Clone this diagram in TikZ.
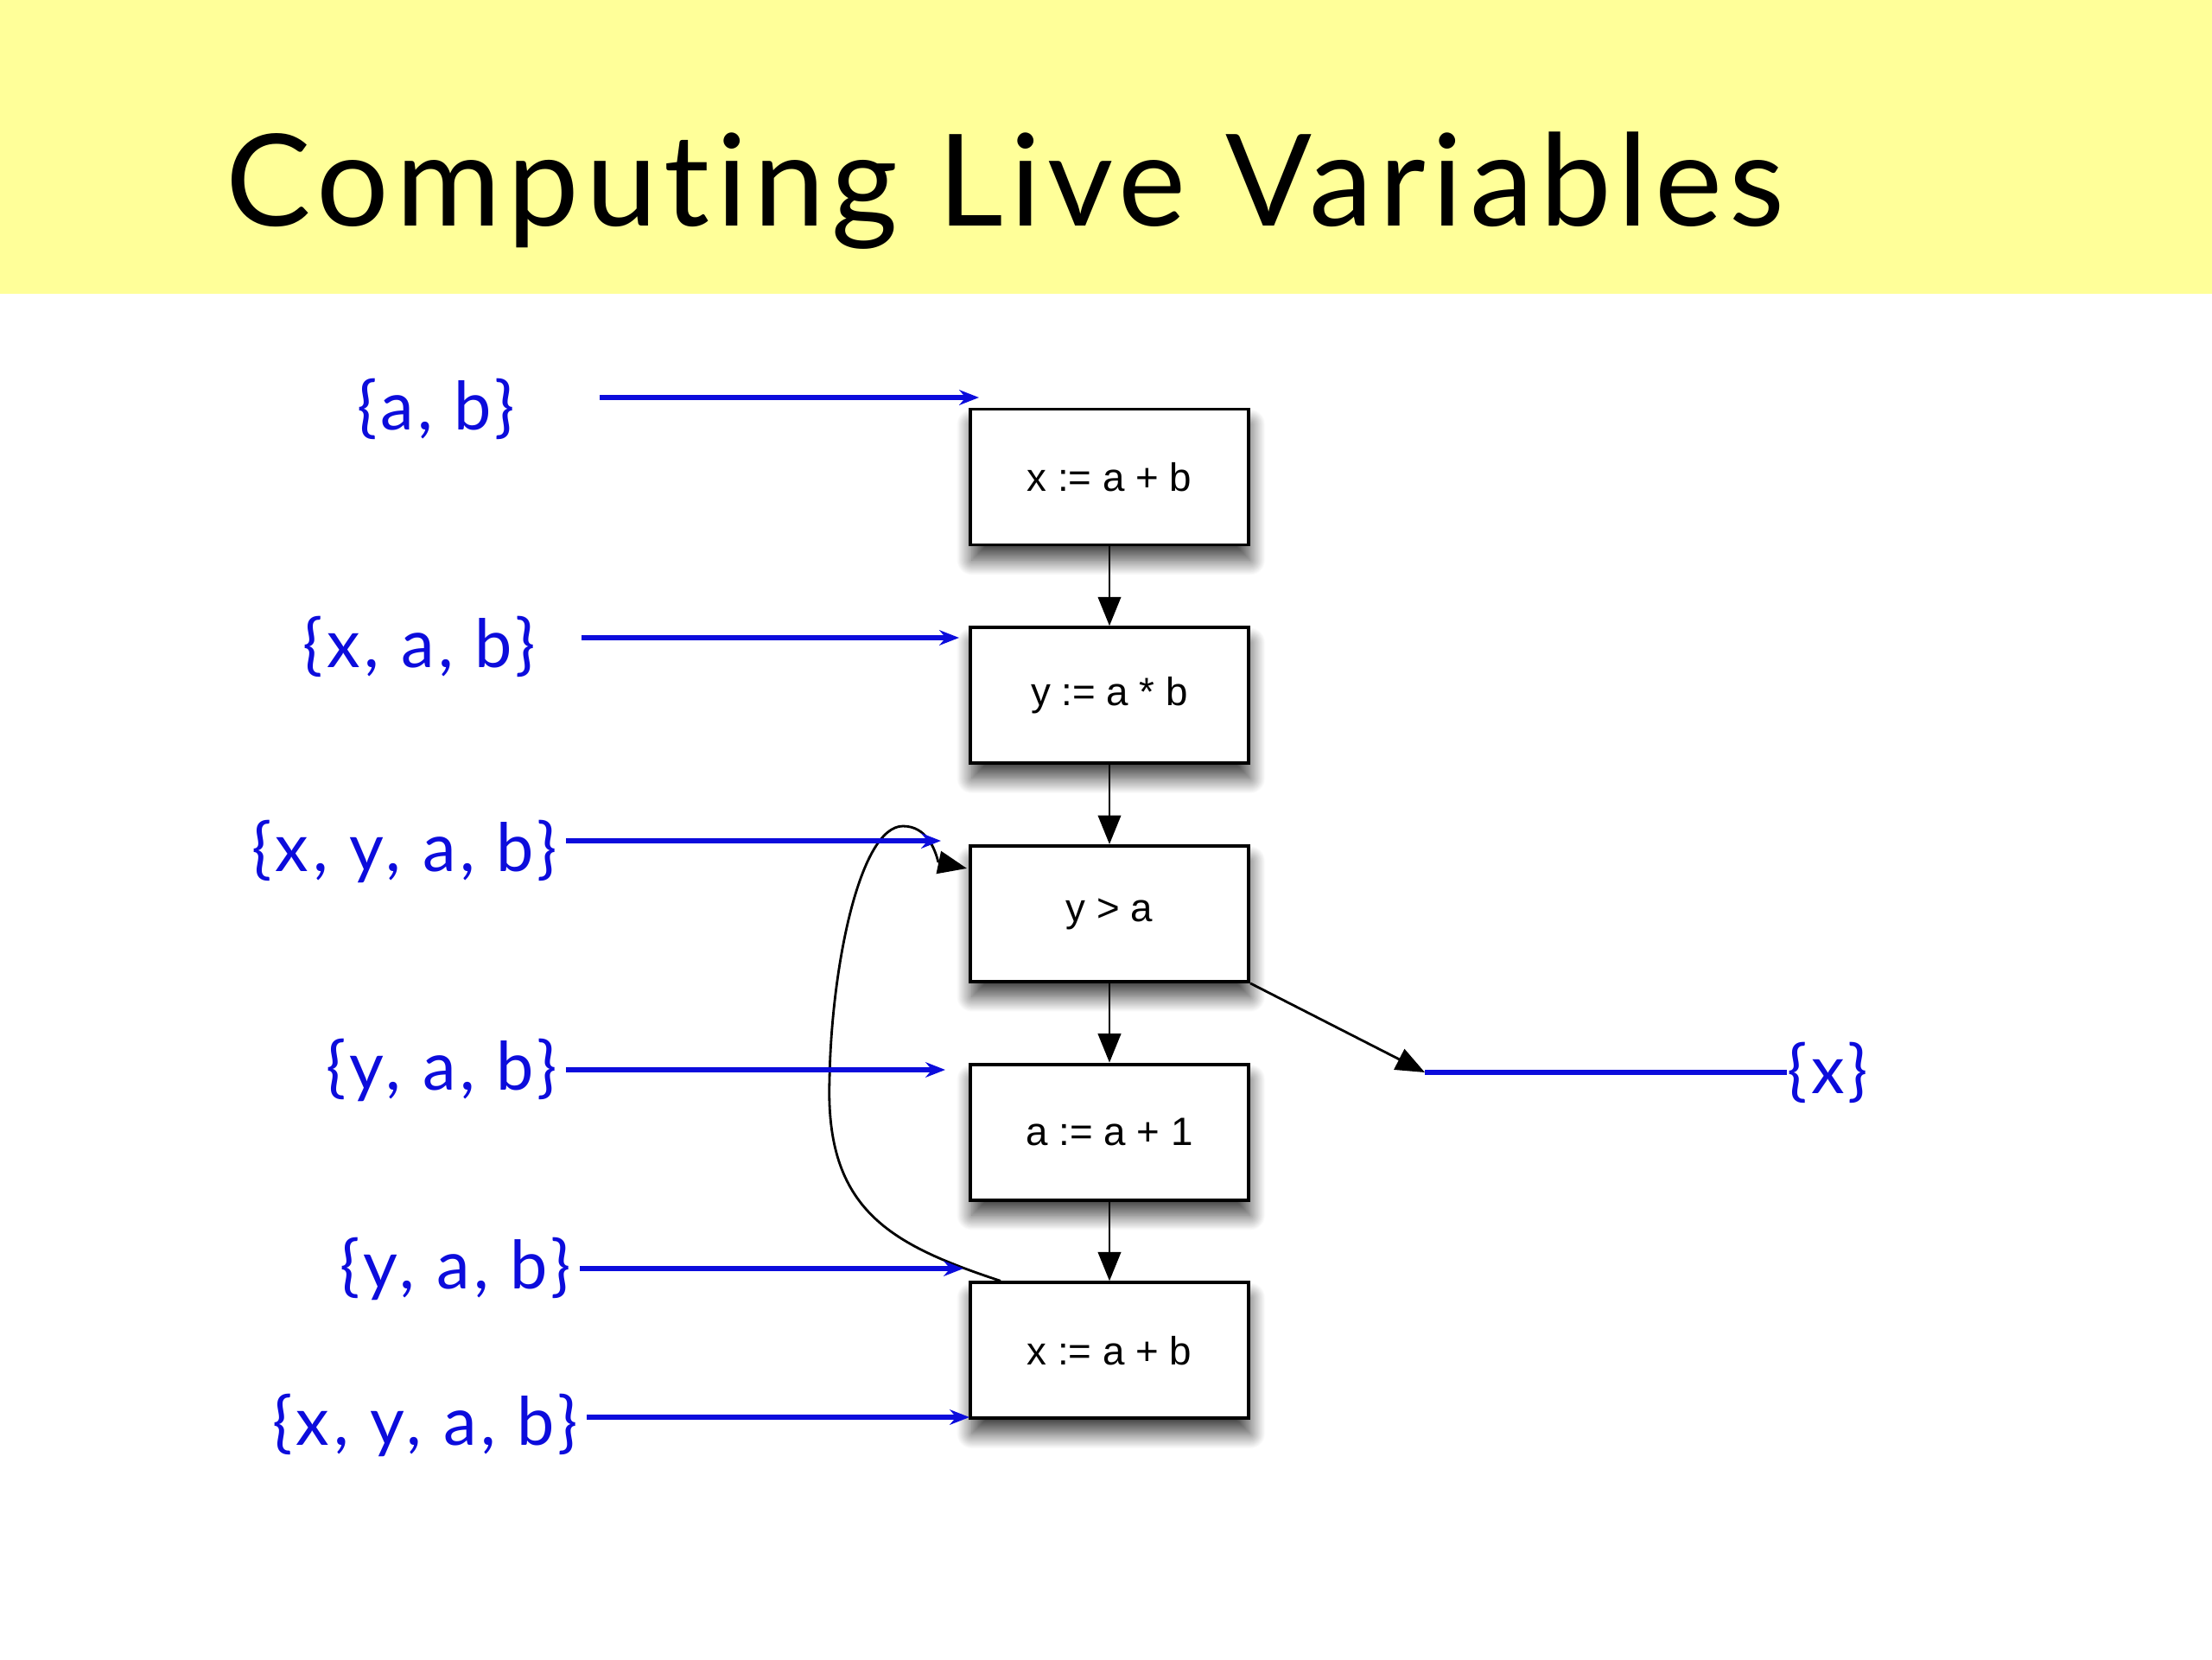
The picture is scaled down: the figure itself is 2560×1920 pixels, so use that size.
\documentclass[tikz,border=0pt]{standalone}
\usepackage{fontspec}
\setmainfont{Liberation Sans}
\newfontfamily\titlefont[LetterSpace=5.3, Ligatures=NoCommon]{Lato}
\newfontfamily\livefont[LetterSpace=6.5, Ligatures=NoCommon]{Lato}
\usetikzlibrary{arrows.meta, shadows.blur, calc}

\definecolor{slideyellow}{RGB}{255,255,153}
\definecolor{liveblue}{RGB}{12,12,220}

\begin{document}
\begin{tikzpicture}[x=0.01cm, y=-0.01cm,
    stmt/.style={rectangle, draw, line width=1.1pt, fill=white, minimum width=3.22cm, minimum height=1.57cm,
        font=\fontsize{13}{15}\selectfont,
        blur shadow={shadow xshift=0.5pt, shadow yshift=-5pt, shadow blur radius=5pt, shadow blur steps=25, shadow opacity=75}},
    flow/.style={line width=0.8pt, -{Triangle[length=9.5pt, width=7.5pt]}},
    live/.style={liveblue, line width=1.5pt, shorten <=0.1cm, -{Stealth[length=6.5pt, width=5pt]}},
    liveset/.style={liveblue, inner sep=0pt, font=\livefont\fontsize{22}{26}\selectfont}]

    \useasboundingbox (0,0) rectangle (2560,1920);
    \fill[slideyellow] (0,0) rectangle (2560,340);
    \node[anchor=base west, inner sep=0pt, font=\titlefont\fontsize{42}{50}\selectfont] (title) at (261,261) {Computing Live Variables};

    \def\bx{1284}
    \def\firsty{552}
    \def\gap{252.7}

    \foreach \i/\stmttext in {1/{x := a + b}, 2/{y := a * b}, 3/{y > a}, 4/{a := a + 1}, 5/{x := a + b}} {%
        \node[stmt] (b\i) at (\bx, {\firsty + \gap*(\i-1)}) {\stmttext};%
    }

    \draw[flow] (b1) -- (b2);
    \draw[flow] (b2) -- (b3);
    \draw[flow] (b3) -- (b4);
    \draw[flow] (b4) -- (b5);

    % loop back edge
    \coordinate (loopout) at ($(b5.north west)+(37,0)$);
    \coordinate (loopin) at ($(b3.north west)+(-2,28)$);
    \coordinate (loopbend) at ($(loopin)+(-33,-7)$);
    \draw[line width=0.8pt] (loopout) .. controls (1030,1440) and (955,1400) .. (960,1250)
        .. controls (962,1120) and (995,956) .. (1045,956)
        .. controls (1072,956) and (1082,982) .. (loopbend);
    \draw[flow] (loopbend) -- (loopin);

    % live sets
    \coordinate (in1) at (1133,460);
    \coordinate (in2) at (1110,738);
    \coordinate (in3) at (1089,973);
    \coordinate (in4) at (1094,1238);
    \coordinate (in5) at (1115,1468);
    \coordinate (in6) at (1122,1640);
    \coordinate (out) at (1649,1241);

    \node[liveset, anchor=east] (s1) at (596,473) {\{a, b\}};
    \node[liveset, anchor=east] (s2) at (620,748) {\{x, a, b\}};
    \node[liveset, anchor=east] (s3) at (645,985) {\{x, y, a, b\}};
    \node[liveset, anchor=east] (s4) at (645,1238) {\{y, a, b\}};
    \node[liveset, anchor=east] (s5) at (661,1468) {\{y, a, b\}};
    \node[liveset, anchor=east] (s6) at (669,1649) {\{x, y, a, b\}};
    \node[liveset, anchor=west] (s7) at (2068,1241) {\{x\}};

    \draw[live, shorten <=0.98cm] (s1.east |- in1) -- (in1);
    \draw[live, shorten <=0.53cm] (s2.east |- in2) -- (in2);
    \draw[live] (s3.east |- in3) -- (in3);
    \draw[live] (s4.east |- in4) -- (in4);
    \draw[live] (s5.east |- in5) -- (in5);
    \draw[live] (s6.east |- in6) -- (in6);

    \draw[flow] (b3.south east) -- (out);
    \draw[live, -, shorten <=0pt] (out) -- (s7.west);

\end{tikzpicture}
\end{document}
